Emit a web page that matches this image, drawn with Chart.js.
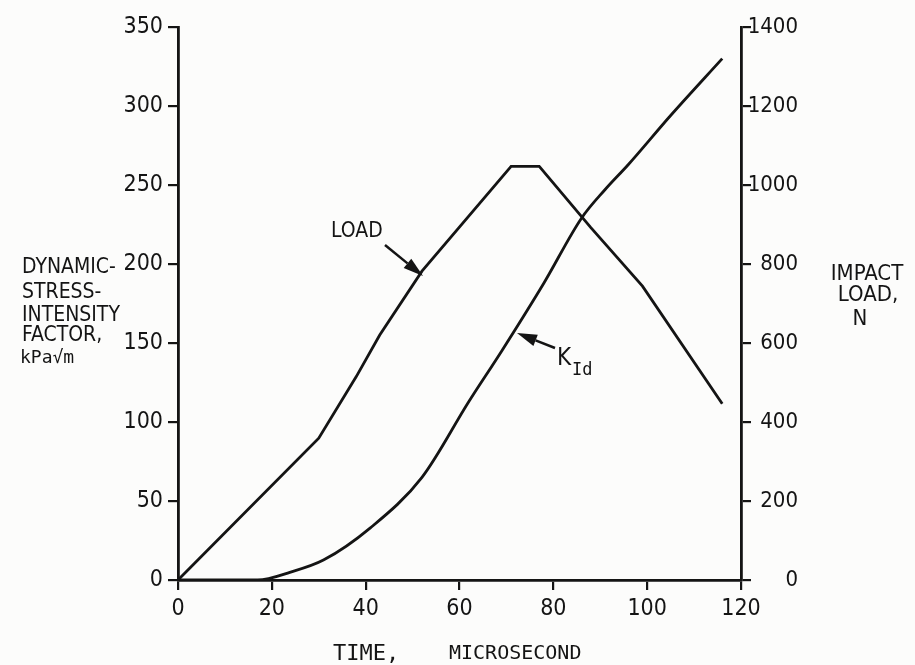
<!DOCTYPE html>
<html>
<head>
<meta charset="utf-8">
<script src="https://cdn.jsdelivr.net/npm/chart.js@4/dist/chart.umd.min.js"></script>
<style>
  html, body { margin: 0; padding: 0; background: #fcfcfb; }
  #wrap { width: 915px; height: 665px; position: relative; }
</style>
</head>
<body>
<div id="wrap"><canvas id="chart" width="915" height="665"></canvas></div>
<script>
  // impact load, N (right axis)
  var loadTime = [0, 30, 38, 43, 52, 71, 77, 88, 99, 116];
  var loadN = [0, 359, 515, 620, 782, 1047, 1047, 892, 744, 446];

  // dynamic stress-intensity factor K_Id, kPa*sqrt(m) (left axis)
  var kidTime = [0, 17, 24, 31, 41, 52, 62, 69, 78, 86, 91, 96, 105, 116];
  var kidVal = [0, 0, 5, 12.6, 33, 65, 113, 145, 188, 229, 247, 263, 294, 330];

  var xTicks = [0, 20, 40, 60, 80, 100, 120];

  var INK = "#141414";
  var NARROW = '"Liberation Sans Narrow", "DejaVu Sans Condensed", sans-serif';
  var MONO = '"DejaVu Sans Mono", "Liberation Mono", monospace';

  var pts = function (xs, ys) {
    return xs.map(function (x, i) { return { x: x, y: ys[i] }; });
  };

  /* ---- annotations: axis titles, LOAD / K_Id labels with arrows ---- */
  var arrow = function (ctx, x0, y0, x1, y1) {
    var a = Math.atan2(y1 - y0, x1 - x0);
    var hl = 20, hw = 6;
    var bx = x1 - hl * Math.cos(a), by = y1 - hl * Math.sin(a);
    ctx.beginPath();
    ctx.moveTo(x0, y0);
    ctx.lineTo(bx, by);
    ctx.stroke();
    ctx.beginPath();
    ctx.moveTo(x1, y1);
    ctx.lineTo(bx + hw * Math.sin(a), by - hw * Math.cos(a));
    ctx.lineTo(bx - hw * Math.sin(a), by + hw * Math.cos(a));
    ctx.closePath();
    ctx.fill();
  };

  var notes = {
    id: "notes",
    afterDraw: function (chart) {
      var ctx = chart.ctx;
      ctx.save();
      ctx.fillStyle = INK;
      ctx.strokeStyle = INK;
      ctx.lineWidth = 2.5;
      ctx.textBaseline = "alphabetic";
      ctx.textAlign = "left";

      ctx.font = "21px " + NARROW;
      ctx.fillText("DYNAMIC-", 22, 273);
      ctx.fillText("STRESS-", 22, 298);
      ctx.fillText("INTENSITY", 22, 321);
      ctx.fillText("FACTOR,", 22, 341);
      ctx.font = "18px " + MONO;
      ctx.fillText("kPa\u221Am", 20, 363);

      ctx.font = "22px " + NARROW;
      ctx.textAlign = "center";
      ctx.fillText("IMPACT", 867, 280);
      ctx.fillText("LOAD,", 868, 301);
      ctx.fillText("N", 860, 325);

      ctx.textAlign = "left";
      ctx.font = "22px " + MONO;
      ctx.fillText("TIME,", 333, 660);
      ctx.font = "20px " + MONO;
      ctx.fillText("MICROSECOND", 449, 659);

      ctx.font = "21px " + NARROW;
      ctx.fillText("LOAD", 331, 237);
      arrow(ctx, 385, 245, 423, 276);

      ctx.font = "24px " + NARROW;
      ctx.fillText("K", 557, 365);
      ctx.font = "17px " + MONO;
      ctx.fillText("Id", 572, 375);
      arrow(ctx, 555, 348, 517, 333);
      ctx.restore();
    },
  };

  var tickFont = { family: NARROW, size: 23 };
  var plain = function (v) { return String(v); };
  var axisGrid = {
    display: true,
    drawOnChartArea: false,
    drawTicks: true,
    tickLength: 10,
    color: INK,
    lineWidth: 2.2,
  };

  new Chart(document.getElementById("chart"), {
    type: "line",
    data: {
      datasets: [
        {
          label: "LOAD",
          data: pts(loadTime, loadN),
          yAxisID: "yLoad",
          borderColor: INK,
          borderWidth: 2.8,
          pointRadius: 0,
          tension: 0,
        },
        {
          label: "KId",
          data: pts(kidTime, kidVal),
          yAxisID: "yK",
          borderColor: INK,
          borderWidth: 2.8,
          pointRadius: 0,
          cubicInterpolationMode: "monotone",
        },
      ],
    },
    options: {
      responsive: false,
      animation: false,
      layout: { padding: { top: 27, left: 0, right: 117, bottom: 0 } },
      plugins: { legend: { display: false }, tooltip: { enabled: false } },
      scales: {
        x: {
          type: "linear",
          min: 0,
          max: 120,
          afterBuildTicks: function (s) {
            s.ticks = xTicks.map(function (v) { return { value: v }; });
          },
          afterFit: function (s) { s.height = 85; },
          grid: axisGrid,
          border: { display: true, color: INK, width: 2.8 },
          ticks: { color: INK, font: tickFont, padding: 5, maxRotation: 0, callback: plain },
        },
        yK: {
          position: "left",
          min: 0,
          max: 350,
          afterFit: function (s) { s.width = 178; },
          grid: axisGrid,
          border: { display: true, color: INK, width: 2.8 },
          ticks: { stepSize: 50, color: INK, font: tickFont, padding: 5, callback: plain },
        },
        yLoad: {
          position: "right",
          min: 0,
          max: 1400,
          afterFit: function (s) { s.width = 57; },
          grid: axisGrid,
          border: { display: true, color: INK, width: 2.8 },
          ticks: { stepSize: 200, color: INK, font: { family: NARROW, size: 22 }, padding: 2, crossAlign: "far", callback: plain },
        },
      },
    },
    plugins: [notes],
  });
</script>
</body>
</html>
